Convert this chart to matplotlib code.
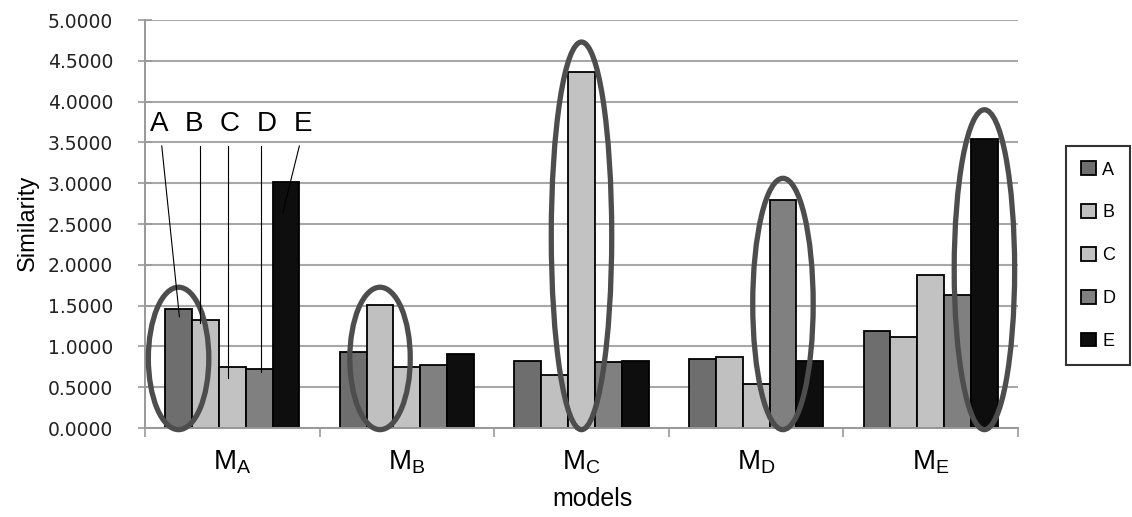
import numpy as np
import matplotlib
matplotlib.use("Agg")
import matplotlib.pyplot as plt
from matplotlib.patches import Ellipse

# data
models = ["A", "B", "C", "D", "E"]
series = ["A", "B", "C", "D", "E"]
sim_A = [1.455, 0.930, 0.815, 0.851, 1.187]
sim_B = [1.324, 1.504, 0.655, 0.871, 1.113]
sim_C = [0.750, 0.750, 4.360, 0.544, 1.874]
sim_D = [0.725, 0.775, 0.810, 2.800, 1.628]
sim_E = [3.010, 0.906, 0.815, 0.815, 3.540]
values = [sim_A, sim_B, sim_C, sim_D, sim_E]

# ellipse marking the highest bar in each model group (series index, top of ellipse)
circled = [0, 1, 2, 3, 4]
circle_top = [1.725, 1.725, 4.73, 3.06, 3.90]

colors = ["#6e6e6e", "#c0c0c0", "#c2c2c2", "#808080", "#0e0e0e"]

plt.rcParams['font.family'] = ['Liberation Sans', 'DejaVu Sans']
plt.rcParams['mathtext.fontset'] = 'custom'
plt.rcParams['mathtext.rm'] = 'Liberation Sans'
plt.rcParams['mathtext.it'] = 'Liberation Sans'

fig = plt.figure(figsize=(11.32, 5.17), dpi=100)
ax = fig.add_axes([145 / 1132, 1 - 428 / 517, 873 / 1132, 408 / 517])

x = np.arange(len(models))
w = 1 / 6.5
for i, s in enumerate(series):
    ax.bar(x + (i - 2) * w, values[i], w, color=colors[i], edgecolor="black",
           linewidth=1.3, label=s, zorder=2)

for g, si in enumerate(circled):
    cx = g + (si - 2) * w
    bottom = -0.02
    e = Ellipse((cx, (circle_top[g] + bottom) / 2), 2.25 * w, circle_top[g] - bottom,
                fill=False, edgecolor="#4d4d4d", linewidth=3.8, zorder=4, clip_on=False)
    ax.add_patch(e)

# callout letters over the first group
label_x = [-0.42, -0.219, -0.013, 0.199, 0.405]
line_start = [-0.404, -0.183, -0.026, 0.166, 0.384]
line_end = [(-0.303, 1.364), (-0.183, 1.287), (-0.026, 0.613), (0.166, 0.686), (0.289, 2.635)]
for i, s in enumerate(series):
    ax.text(label_x[i], 3.73, s, fontsize=20, ha="center", va="center", zorder=5)
    ax.plot([line_start[i], line_end[i][0]], [3.456, line_end[i][1]], color="black",
            linewidth=0.8, zorder=5)

ax.set_xlim(-0.5, 4.5)
ax.set_ylim(0, 5)
ax.set_yticks(np.arange(0, 5.01, 0.5))
ax.set_yticklabels(["%.4f" % v for v in np.arange(0, 5.01, 0.5)],
                   fontfamily="DejaVu Sans", fontsize=13.5, color="#222222")
ax.tick_params(axis="y", direction="inout", length=10, width=1.2, color="#999999", pad=18)
ax.grid(axis="y", color="#a8a8a8", linewidth=1.5, zorder=0)
ax.set_axisbelow(True)

ax.set_xticks(np.arange(-0.5, 4.6, 1.0))
ax.set_xticklabels([])
ax.tick_params(axis="x", which="major", direction="out", length=6.5, width=1.2, color="#999999")
ax.set_xticks(x, minor=True)
ax.set_xticklabels([r"$\mathregular{M_%s}$" % m for m in models], minor=True, fontsize=20)
ax.tick_params(axis="x", which="minor", length=0, pad=15)

for sp in ["top", "right"]:
    ax.spines[sp].set_visible(False)
for sp in ["left", "bottom"]:
    ax.spines[sp].set_color("#999999")
    ax.spines[sp].set_linewidth(1.4)

ax.set_xlabel("models", fontsize=18)
ax.xaxis.set_label_coords(0.513, -0.145)
ax.set_ylabel("Similarity", fontsize=17)
ax.yaxis.set_label_coords(-0.122, 0.504)

leg = ax.legend(loc="upper left", bbox_to_anchor=(1066 / 1132, 1 - 146 / 517),
                bbox_transform=fig.transFigure, fontsize=13, frameon=True, fancybox=False,
                handlelength=0.8, handleheight=0.8, handletextpad=0.35,
                labelspacing=1.42, borderpad=0.85, borderaxespad=0)
leg.get_frame().set_edgecolor("black")
leg.get_frame().set_linewidth(1.5)

fig.savefig("out.png", dpi=100)
